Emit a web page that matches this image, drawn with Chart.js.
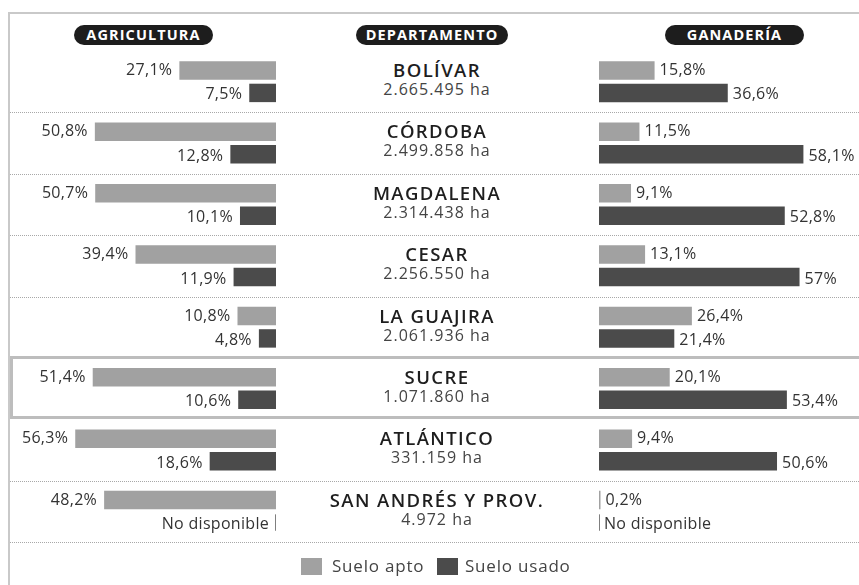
<!DOCTYPE html>
<html>
<head>
<meta charset="utf-8">
<script src="https://cdn.jsdelivr.net/npm/chart.js@4.4.1/dist/chart.umd.min.js"></script>
<style>
body { margin: 0; width: 859px; height: 585px; background: #fff; position: relative; overflow: hidden; font-family: "Open Sans", sans-serif; color: #333; }
#marco { position: absolute; left: 8px; top: 12px; width: 900px; height: 600px; border-left: 2px solid #c9c9c9; border-top: 2px solid #c9c9c9; }
#cajaSucre { position: absolute; left: 10px; top: 356px; width: 900px; height: 57px; border: 3px solid #bdbdbd; }
.sep { position: absolute; left: 10px; width: 849px; height: 0; border-top: 1px dotted #a8a8a8; }
.pill { position: absolute; top: 25px; height: 20px; line-height: 20px; border-radius: 10px; background: #1d1d1d; color: #fff; font-weight: 700; font-size: 14.5px; letter-spacing: 1.1px; text-align: center; }
canvas { position: absolute; top: 51px; }
#agricultura { left: 0; }
#ganaderia { left: 599px; }
.depto { position: absolute; left: 300px; width: 274px; text-align: center; padding-top: 9px; }
.depto b { display: block; font-size: 18.5px; line-height: 20px; font-weight: 600; letter-spacing: 1.4px; color: #1e1e1e; }
.depto span { display: block; font-size: 16px; line-height: 19px; letter-spacing: 1px; color: #444; }
.cuadro { position: absolute; top: 558px; width: 21px; height: 17px; }
.txt { position: absolute; top: 555px; font-size: 17px; line-height: 22px; letter-spacing: 0.8px; color: #444; }
</style>
</head>
<body>
<div id="marco"></div>
<div id="cajaSucre"></div>
<div class="pill" style="left:74px;width:139px">AGRICULTURA</div>
<div class="pill" style="left:356px;width:152px">DEPARTAMENTO</div>
<div class="pill" style="left:665px;width:139px">GANADERÍA</div>
<canvas id="agricultura" width="276" height="491"></canvas>
<canvas id="ganaderia" width="260" height="491"></canvas>
<div id="centro"></div>
<div class="cuadro" style="left:301px;background:#a1a1a1"></div>
<div class="txt" style="left:332px">Suelo apto</div>
<div class="cuadro" style="left:437px;background:#4b4b4b"></div>
<div class="txt" style="left:465px">Suelo usado</div>
<script>
// datos
var departamentos = ['BOLÍVAR', 'CÓRDOBA', 'MAGDALENA', 'CESAR', 'LA GUAJIRA', 'SUCRE', 'ATLÁNTICO', 'SAN ANDRÉS Y PROV.'];
var hectareas = ['2.665.495 ha', '2.499.858 ha', '2.314.438 ha', '2.256.550 ha', '2.061.936 ha', '1.071.860 ha', '331.159 ha', '4.972 ha'];
var agriApto = [27.1, 50.8, 50.7, 39.4, 10.8, 51.4, 56.3, 48.2];
var agriUsado = [7.5, 12.8, 10.1, 11.9, 4.8, 10.6, 18.6, null];
var ganApto = [15.8, 11.5, 9.1, 13.1, 26.4, 20.1, 9.4, 0.2];
var ganUsado = [36.6, 58.1, 52.8, 57, 21.4, 53.4, 50.6, null];

var colorApto = '#a1a1a1';
var colorUsado = '#4b4b4b';
var TOP = 51, ROW_H = 61.4;

function formato(v) {
    return String(v).replace('.', ',') + '%';
}

// textos de porcentaje y "No disponible"
var etiquetas = {
    id: 'etiquetas',
    afterDatasetsDraw: function (chart, args, opts) {
        var ctx = chart.ctx;
        var base = chart.scales.x.getPixelForValue(0);
        var izq = opts.lado === 'izq';
        ctx.save();
        ctx.font = '16px "Open Sans"';
        ctx.letterSpacing = '0.3px';
        ctx.textBaseline = 'middle';
        ctx.textAlign = izq ? 'right' : 'left';
        chart.data.datasets.forEach(function (ds, d) {
            chart.getDatasetMeta(d).data.forEach(function (bar, i) {
                var v = ds.data[i];
                var y = bar.y + (d === 1 ? 2 : 0);
                var txt, x;
                if (v === null) {
                    ctx.fillStyle = '#555';
                    ctx.fillRect(base - 0.75, bar.y - bar.height / 2 + 1, 1.5, bar.height - 2);
                    txt = 'No disponible';
                    x = base;
                } else {
                    txt = formato(v);
                    x = bar.x;
                }
                ctx.fillStyle = '#333';
                ctx.fillText(txt, izq ? x - 7 : x + 5, y);
            });
        });
        ctx.restore();
    }
};

function crearGrafico(id, apto, usado, max, lado) {
    return new Chart(document.getElementById(id), {
        type: 'bar',
        data: {
            labels: departamentos,
            datasets: [{
                label: 'Suelo apto',
                data: apto,
                backgroundColor: colorApto,
                minBarLength: 1.5,
                categoryPercentage: 0.732,
                barPercentage: 0.82
            }, {
                label: 'Suelo usado',
                data: usado,
                backgroundColor: colorUsado,
                categoryPercentage: 0.732,
                barPercentage: 0.82
            }]
        },
        options: {
            indexAxis: 'y',
            responsive: false,
            animation: false,
            devicePixelRatio: 1,
            layout: { padding: 0 },
            scales: {
                x: { min: 0, max: max, reverse: lado === 'izq', display: false },
                y: { display: false }
            },
            plugins: {
                legend: { display: false },
                tooltip: { enabled: false },
                etiquetas: { lado: lado }
            }
        },
        plugins: [etiquetas]
    });
}

crearGrafico('agricultura', agriApto, agriUsado, 77.4, 'izq');
crearGrafico('ganaderia', ganApto, ganUsado, 73.9, 'der');

// nombres de departamento y separadores
var centro = document.getElementById('centro');
for (var i = 0; i < departamentos.length; i++) {
    var d = document.createElement('div');
    d.className = 'depto';
    d.style.top = (TOP + i * ROW_H) + 'px';
    d.innerHTML = '<b>' + departamentos[i] + '</b><span>' + hectareas[i] + '</span>';
    centro.appendChild(d);
    var limite = i + 1;
    if (limite !== 5 && limite !== 6) {
        var s = document.createElement('div');
        s.className = 'sep';
        s.style.top = Math.round(TOP + limite * ROW_H) + 'px';
        centro.appendChild(s);
    }
}
</script>
</body>
</html>
